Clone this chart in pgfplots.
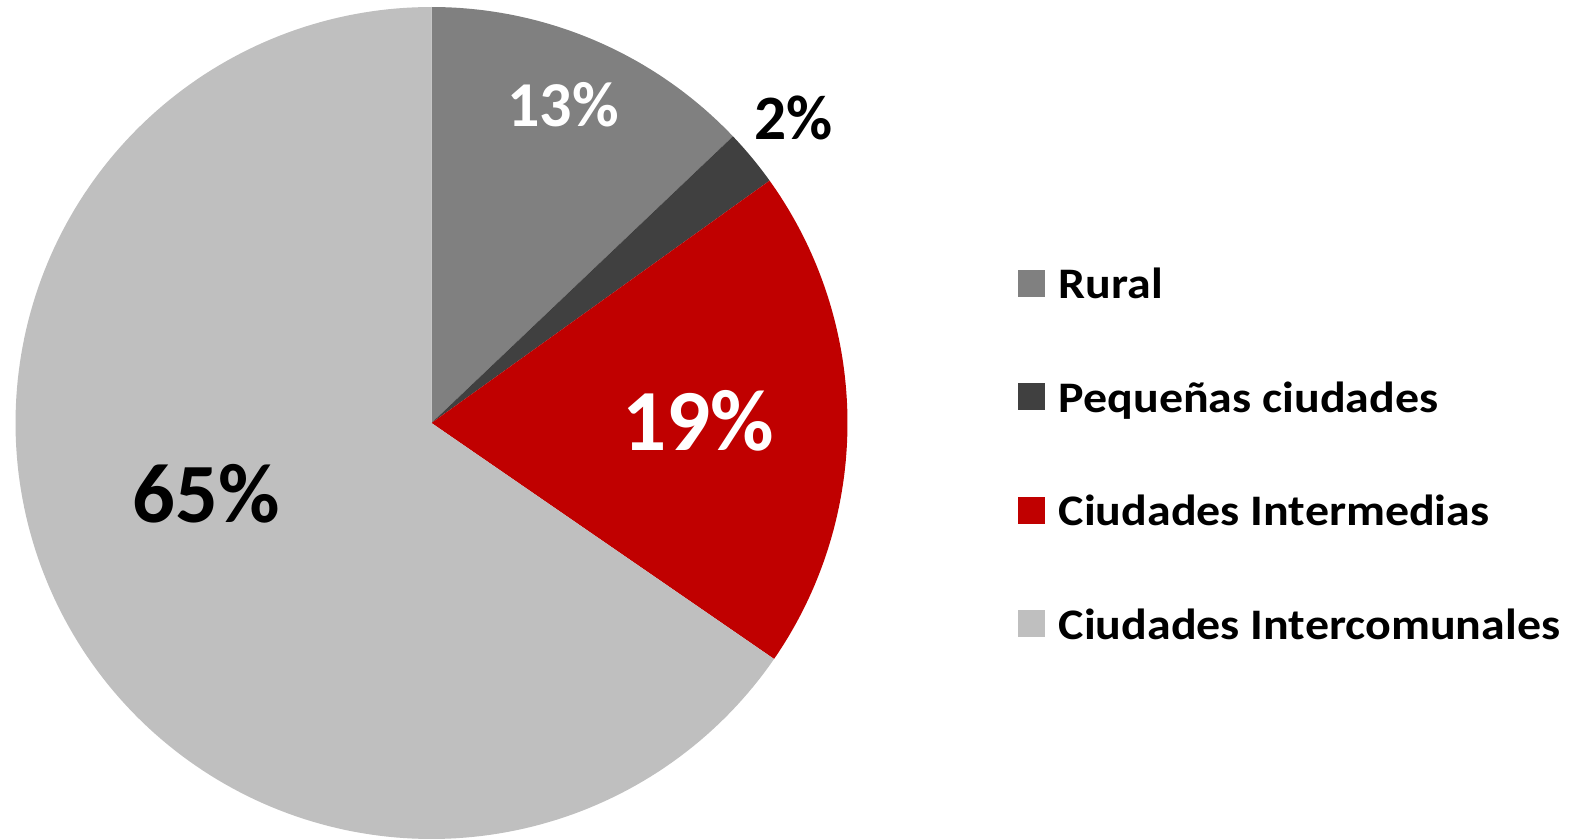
\documentclass[border=0pt]{standalone}
\usepackage{pgfplots}
\pgfplotsset{compat=1.18}
\usepackage{fontspec}
\setmainfont{Carlito}
\newfontfamily\legfont{Carlito}[FakeStretch=1.1]
\definecolor{rural}{HTML}{808080}
\definecolor{pequenas}{HTML}{404040}
\definecolor{intermedias}{HTML}{C00000}
\definecolor{intercom}{HTML}{BFBFBF}
\begin{document}
\begin{tikzpicture}
% shares in percent (clockwise from 12 o'clock)
\def\pA{12.9}\def\pB{2.2}\def\pC{19.5}\def\pD{65.4}
\pgfmathsetmacro\aO{90}
\pgfmathsetmacro\aA{\aO-\pA*3.6}
\pgfmathsetmacro\aB{\aA-\pB*3.6}
\pgfmathsetmacro\aC{\aB-\pC*3.6}
\pgfmathsetmacro\aD{\aC-\pD*3.6}
\def\cx{431.5}\def\cy{416}\def\r{416}
\begin{axis}[x=0.1mm,y=0.1mm,xmin=0,xmax=1577,ymin=0,ymax=839,
  hide axis,clip=false,
  legend image code/.code={\fill[#1] (0,-0.8mm) rectangle (2.7mm,1.9mm);},
  legend style={draw=none,fill=none,inner sep=0pt,at={(axis cs:1017,571)},anchor=north west,
    row sep=7.35mm,column sep=1.4mm,legend cell align=left,
    font=\legfont\bfseries\fontsize{12.4}{14}\selectfont,
    nodes={inner sep=0pt,text height=3mm,text depth=1mm}},
  ]
\addplot[draw=none,forget plot] coordinates {(0,0) (1577,839)};
\addplot[draw=none,fill=rural,domain=\aA:\aO,samples=60] ({\cx+\r*cos(x)},{\cy+\r*sin(x)}) -- (axis cs:\cx,\cy) -- cycle;
\addlegendentry{Rural}
\addplot[draw=none,fill=pequenas,domain=\aB:\aA,samples=20] ({\cx+\r*cos(x)},{\cy+\r*sin(x)}) -- (axis cs:\cx,\cy) -- cycle;
\addlegendentry{Pequeñas ciudades}
\addplot[draw=none,fill=intermedias,domain=\aC:\aB,samples=80] ({\cx+\r*cos(x)},{\cy+\r*sin(x)}) -- (axis cs:\cx,\cy) -- cycle;
\addlegendentry{Ciudades Intermedias}
\addplot[draw=none,fill=intercom,domain=\aD:\aC,samples=200] ({\cx+\r*cos(x)},{\cy+\r*sin(x)}) -- (axis cs:\cx,\cy) -- cycle;
\addlegendentry{Ciudades Intercomunales}
\node[white,font=\bfseries\fontsize{18.2}{22}\selectfont] at (axis cs:563,734) {13\%};
\node[black,font=\bfseries\fontsize{18}{22}\selectfont] at (axis cs:794,721) {2\%};
\node[white,font=\bfseries\fontsize{24.8}{28}\selectfont] at (axis cs:698,418) {19\%};
\node[black,font=\bfseries\fontsize{24}{30}\selectfont] at (axis cs:206,345) {65\%};
\end{axis}
\end{tikzpicture}
\end{document}
